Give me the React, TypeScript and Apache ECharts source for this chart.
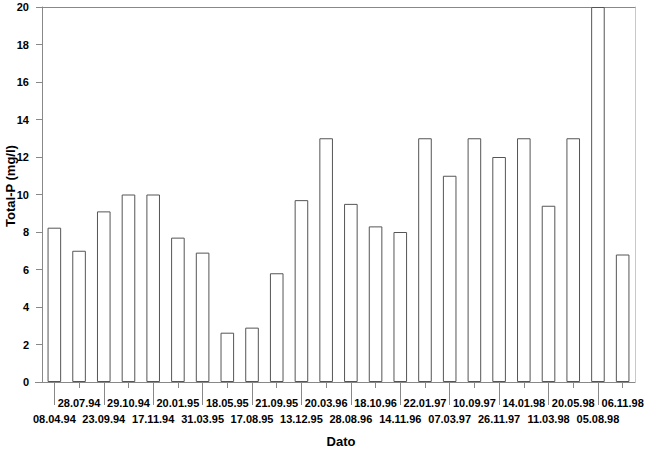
import React, { useEffect, useRef } from "react";
import * as echarts from "echarts";

const categories = [
  "08.04.94", "28.07.94", "23.09.94", "29.10.94", "17.11.94", "20.01.95",
  "31.03.95", "18.05.95", "17.08.95", "21.09.95", "13.12.95", "20.03.96",
  "28.08.96", "18.10.96", "14.11.96", "22.01.97", "07.03.97", "10.09.97",
  "26.11.97", "14.01.98", "11.03.98", "20.05.98", "05.08.98", "06.11.98",
];
const totalP = [
  8.23, 7.0, 9.1, 10, 10, 7.7, 6.9, 2.63, 2.9, 5.8, 9.7, 13,
  9.5, 8.3, 8.0, 13, 11, 13, 12, 13, 9.4, 13, 20, 6.8,
];
const yTitle = "Total-P (mg/l)";
const xTitle = "Dato";

const FONT = "'Liberation Sans', Arial, sans-serif";

export default function App() {
  const ref = useRef<HTMLDivElement>(null);
  useEffect(() => {
    if (!ref.current) return;
    const chart = echarts.init(ref.current, null, { renderer: "svg" });
    const labelStyle = {
      color: "#000",
      fontFamily: FONT,
      fontWeight: "bold" as const,
      fontSize: 11,
    };
    chart.setOption({
      animation: false,
      backgroundColor: "#fff",
      grid: { left: 42, right: 15, top: 7, bottom: 69, containLabel: false },
      xAxis: [
        {
          type: "category",
          data: categories,
          position: "bottom",
          axisLine: { show: true, lineStyle: { color: "#888", width: 1 } },
          axisTick: {
            show: true,
            alignWithLabel: true,
            interval: (i: number) => i % 2 === 1,
            length: 6,
            lineStyle: { color: "#888" },
          },
          axisLabel: {
            ...labelStyle,
            interval: (i: number) => i % 2 === 1,
            margin: 15,
          },
          splitLine: { show: false },
        },
        {
          type: "category",
          data: categories,
          position: "bottom",
          axisLine: { show: false },
          axisTick: {
            show: true,
            alignWithLabel: true,
            interval: (i: number) => i % 2 === 0,
            length: 23,
            lineStyle: { color: "#888" },
          },
          axisLabel: {
            ...labelStyle,
            interval: (i: number) => i % 2 === 0,
            margin: 31,
          },
          splitLine: { show: false },
        },
        {
          type: "category",
          data: categories,
          position: "top",
          axisLine: { show: true, lineStyle: { color: "#888", width: 1 } },
          axisTick: { show: false },
          axisLabel: { show: false },
          splitLine: { show: false },
        },
      ],
      yAxis: [
        {
          type: "value",
          min: 0,
          max: 20,
          interval: 2,
          axisLine: { show: true, lineStyle: { color: "#888", width: 1 } },
          axisTick: { show: true, length: 6, lineStyle: { color: "#888" } },
          axisLabel: { ...labelStyle, margin: 13 },
          splitLine: { show: false },
        },
        {
          type: "value",
          min: 0,
          max: 20,
          interval: 2,
          position: "right",
          axisLine: { show: true, lineStyle: { color: "#c8c8c8", width: 1 } },
          axisTick: { show: false },
          axisLabel: { show: false },
          splitLine: { show: false },
        },
      ],
      series: [
        {
          type: "bar",
          data: totalP,
          xAxisIndex: 0,
          yAxisIndex: 0,
          barCategoryGap: "45%",
          itemStyle: { color: "#fff", borderColor: "#555", borderWidth: 1 },
        },
      ],
      graphic: [
        {
          type: "line",
          shape: { x1: 35, y1: 382.5, x2: 42, y2: 382.5 },
          style: { stroke: "#888", lineWidth: 1 },
        },
        {
          type: "text",
          x: 10,
          y: 186,
          rotation: Math.PI / 2,
          style: {
            text: yTitle,
            fill: "#000",
            font: `bold 13px ${FONT}`,
            align: "center",
            verticalAlign: "middle",
          },
        },
        {
          type: "text",
          x: 341,
          y: 441,
          style: {
            text: xTitle,
            fill: "#000",
            font: `bold 13px ${FONT}`,
            align: "center",
            verticalAlign: "middle",
          },
        },
      ],
    });
    return () => chart.dispose();
  }, []);
  return (
    <div
      ref={ref}
      style={{ position: "fixed", left: 0, top: 0, width: 650, height: 451, background: "#fff" }}
    />
  );
}
